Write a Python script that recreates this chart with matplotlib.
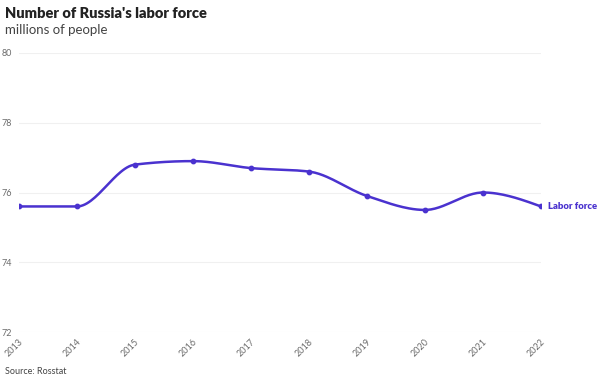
import numpy as np
import matplotlib.pyplot as plt

years = [2013, 2014, 2015, 2016, 2017, 2018, 2019, 2020, 2021, 2022]
labor_force = [75.6, 75.6, 76.8, 76.9, 76.7, 76.6, 75.9, 75.5, 76.0, 75.6]
y_ticks = [72, 74, 76, 78, 80]

LINE_COLOR = "#4a32cf"
GRID_COLOR = "#f0f0f0"
TICK_COLOR = "#6b6b6b"

plt.rcParams["font.family"] = ["Lato", "DejaVu Sans"]


def monotone_curve(x, y, n=30):
    # d3 curveMonotoneX style cubic hermite
    x = np.asarray(x, float)
    y = np.asarray(y, float)
    h = np.diff(x)
    s = np.diff(y) / h
    m = np.zeros_like(y)
    for i in range(1, len(x) - 1):
        if s[i - 1] * s[i] <= 0:
            m[i] = 0.0
        else:
            p = (s[i - 1] * h[i] + s[i] * h[i - 1]) / (h[i - 1] + h[i])
            m[i] = np.sign(s[i - 1]) * min(abs(s[i - 1]), abs(s[i]), 0.5 * abs(p)) * 2
    m[0] = (3 * s[0] - m[1]) / 2
    m[-1] = (3 * s[-1] - m[-2]) / 2
    xs, ys = [], []
    for i in range(len(x) - 1):
        t = np.linspace(0, 1, n)
        h00 = 2 * t**3 - 3 * t**2 + 1
        h10 = t**3 - 2 * t**2 + t
        h01 = -2 * t**3 + 3 * t**2
        h11 = t**3 - t**2
        xs.append(x[i] + t * h[i])
        ys.append(h00 * y[i] + h10 * h[i] * m[i] + h01 * y[i + 1] + h11 * h[i] * m[i + 1])
    return np.concatenate(xs), np.concatenate(ys)


fig = plt.figure(figsize=(6, 3.82), dpi=100)
ax = fig.add_axes([19 / 600, 1 - 332 / 382, (541 - 19) / 600, (332 - 53) / 382])

cx, cy = monotone_curve(years, labor_force)
ax.plot(cx, cy, color=LINE_COLOR, lw=1.8, solid_capstyle="round", zorder=3)
ax.scatter(years, labor_force, s=10, color=LINE_COLOR, zorder=4)

ax.set_xlim(years[0], years[-1])
ax.set_ylim(y_ticks[0], y_ticks[-1])
ax.set_yticks(y_ticks)
ax.set_xticks(years)
ax.set_xticklabels([])
for yr in years:
    ax.annotate(str(yr), (yr, y_ticks[0]), xytext=(-3.2, -11.2),
                textcoords="offset points", rotation=45, ha="center", va="center",
                color=TICK_COLOR, fontsize=6.5, annotation_clip=False)
ax.grid(axis="y", color=GRID_COLOR, lw=0.8)
ax.grid(axis="x", visible=False)
for sp in ax.spines.values():
    sp.set_visible(False)
ax.tick_params(axis="both", length=0, colors=TICK_COLOR, labelsize=6.5)
ax.tick_params(axis="y", pad=5)

ax.annotate("Labor force", (years[-1], labor_force[-1]), xytext=(5, 0),
            textcoords="offset points", va="center", ha="left",
            color=LINE_COLOR, fontsize=6.8, fontweight="heavy", annotation_clip=False)

fig.text(5 / 600, 1 - 14 / 382, "Number of Russia's labor force", fontsize=10.5,
         fontweight="heavy", color="#222222", va="center", ha="left")
fig.text(5 / 600, 1 - 30 / 382, "millions of people", fontsize=9.5,
         color="#444444", va="center", ha="left")
fig.text(5 / 600, 1 - 371 / 382, "Source: Rosstat", fontsize=6.5,
         color="#444444", va="center", ha="left")

fig.savefig("out.png", dpi=100, facecolor="white")
